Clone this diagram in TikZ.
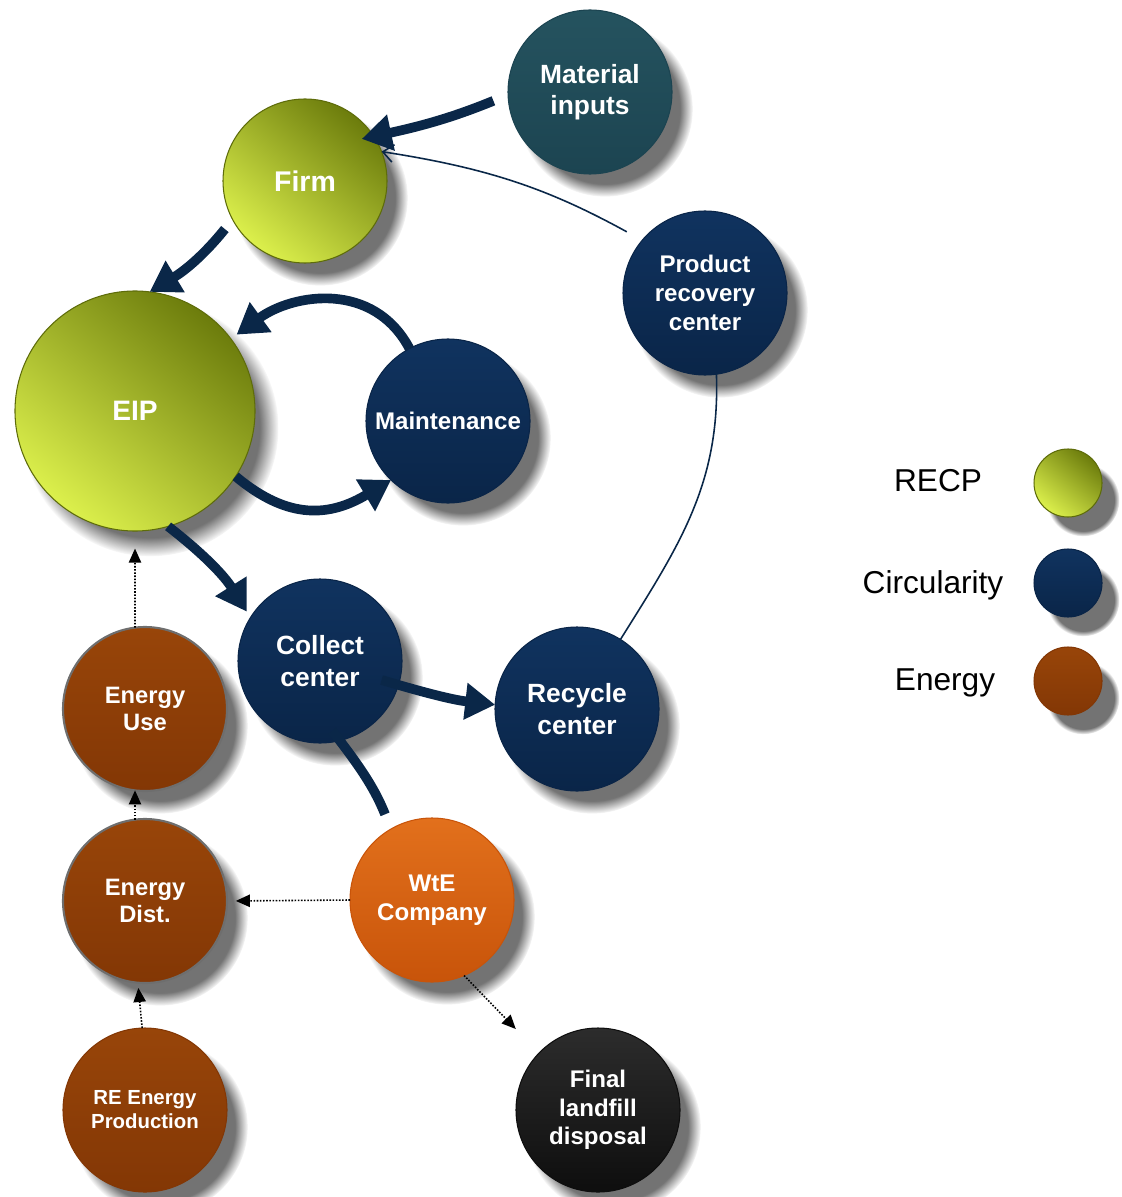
\documentclass[tikz,border=0pt]{standalone}
\usepackage{fontspec}
\setmainfont{Liberation Sans}
\usetikzlibrary{arrows.meta,shadows,fadings}

\definecolor{arrownavy}{HTML}{0A2748}
\definecolor{olivedark}{HTML}{6C7C0C}
\definecolor{olivelight}{HTML}{DCF04C}
\definecolor{oliveline}{HTML}{5E6C0A}
\definecolor{navytop}{HTML}{10335F}
\definecolor{navybot}{HTML}{0A2548}
\definecolor{tealtop}{HTML}{25535F}
\definecolor{tealbot}{HTML}{1C4451}
\definecolor{browntop}{HTML}{984509}
\definecolor{brownbot}{HTML}{833705}
\definecolor{orangetop}{HTML}{E2701C}
\definecolor{orangebot}{HTML}{C8540A}
\definecolor{blacktop}{HTML}{2C2C2C}
\definecolor{blackbot}{HTML}{0E0E0E}
\definecolor{rimgray}{HTML}{6E6E6E}

\newcommand{\ballfont}[2]{\fontsize{#1}{#2}\selectfont\bfseries}

\begin{document}
\begin{tikzpicture}[x=0.2mm, y=0.2mm]
\tikzset{ inner sep=0pt, outer sep=0pt,
  ball/.style={circle, minimum size=3.28cm, align=center, text=white,
    circular drop shadow={shadow xshift=8pt, shadow yshift=-9pt, shadow scale=1.07, fill=black!55}},
  recpball/.style={ball, top color=olivedark, bottom color=olivelight, shading angle=-40, draw=oliveline, line width=0.6pt},
  circball/.style={ball, top color=navytop, bottom color=navybot, draw=navybot, line width=0.6pt},
  tealball/.style={ball, top color=tealtop, bottom color=tealbot, draw=tealbot, line width=0.6pt},
  energyball/.style={ball, top color=browntop, bottom color=brownbot, draw=brownbot, line width=0.6pt},
  wteball/.style={ball, top color=orangetop, bottom color=orangebot, draw=orangebot, line width=0.6pt},
  darkball/.style={ball, top color=blacktop, bottom color=blackbot, draw=blackbot, line width=0.6pt},
  legtext/.style={font=\fontsize{18}{21}\selectfont, text=black},
  flow/.style={draw=arrownavy, line width=5.5pt, -{Triangle[length=17pt, width=20pt]}},
  flowline/.style={draw=arrownavy, line width=5.5pt},
  thinflow/.style={draw=arrownavy, line width=0.9pt},
  dotflow/.style={black, line width=0.9pt, dash pattern=on 0.9pt off 0.9pt, -{Triangle[length=8pt, width=7pt]}},
}

\useasboundingbox (0,0) rectangle (1122,-1197);

% circles
\node [tealball, font=\ballfont{15}{17.6}] (MI) at (590,-92) {Material\\inputs};
\node [recpball, font=\ballfont{16.2}{19}] (FI) at (305,-181) {Firm};
\node [recpball, minimum size=4.8cm, font=\ballfont{16}{19}] (EIP) at (135,-411) {EIP};
\node [circball, font=\ballfont{13.7}{16}] (MA) at (448,-421) {Maintenance};
\node [circball, font=\ballfont{13.7}{16.4}] (PR) at (705,-293) {Product\\recovery\\center};
\node [circball, font=\ballfont{15}{18}] (CO) at (320,-661) {Collect\\center};
\node [circball, font=\ballfont{15}{18}] (RC) at (577,-709) {Recycle\\center};
\node [energyball, draw=rimgray, line width=1.2pt, font=\ballfont{13.5}{15.5}] (EU) at (145,-709) {Energy\\Use};
\node [energyball, draw=rimgray, line width=1.2pt, font=\ballfont{13.5}{15.8}] (ED) at (145,-901) {Energy\\Dist.};
\node [wteball, font=\ballfont{13.7}{16.4}] (WE) at (432,-900) {WtE\\Company};
\node [energyball, font=\ballfont{11.6}{13.6}] (RE) at (145,-1110) {RE Energy\\Production};
\node [darkball, font=\ballfont{13.7}{16.2}] (LF) at (598,-1110) {Final\\landfill\\disposal};

% legend
\node [recpball, minimum size=1.36cm] (LBR) at (1068,-483) {};
\node [circball, minimum size=1.36cm] (LBC) at (1068,-583) {};
\node [energyball, minimum size=1.36cm] (LBE) at (1068,-681) {};
\node [legtext] (LTR) at (938,-481) {RECP};
\node [legtext] (LTC) at (933,-585) {Circularity};
\node [legtext] (LTE) at (945,-683) {Energy};

% material flows
\draw [flow, shorten <=9pt, shorten >=-7pt] (MI.182) to[bend left=5] (FI.33);
\draw [thinflow, -{Straight Barb[length=6pt, width=10pt]}, shorten <=10pt] (PR.140) to[bend right=10] (FI.21);
\draw [flow, shorten <=7pt] (FI.208) to[bend left=10] (EIP.83);
\draw [flow, shorten >=4pt, looseness=1.1] (MA.118) to[out=118, in=36] (EIP.37);
\draw [flow, looseness=1.15] (EIP.-33) to[out=-40, in=211] (MA.226);
\draw [flow, shorten >=4pt] (EIP.-74) to[bend left=10] (CO.148);
\draw [flow, shorten <=-10pt] (CO.-17) to[bend right=5] (RC.177);
\draw [flowline, shorten <=-7pt, shorten >=9pt] (CO.-76) to[bend left=8] (WE.120);
\draw [thinflow] (RC.58) to[out=58, in=-88] (PR.-82);

% energy flows
\draw [dotflow, shorten >=10pt] (EU.97) -- (EIP.-90);
\draw [dotflow] (ED.97) -- (EU.263);
\draw [dotflow, shorten >=5pt] (WE.west) -- (ED.east);
\draw [dotflow, shorten >=3pt] (RE.92) -- (ED.265);
\draw [dotflow, shorten >=19pt] (WE.-67) -- (LF.136);
\end{tikzpicture}
\end{document}
